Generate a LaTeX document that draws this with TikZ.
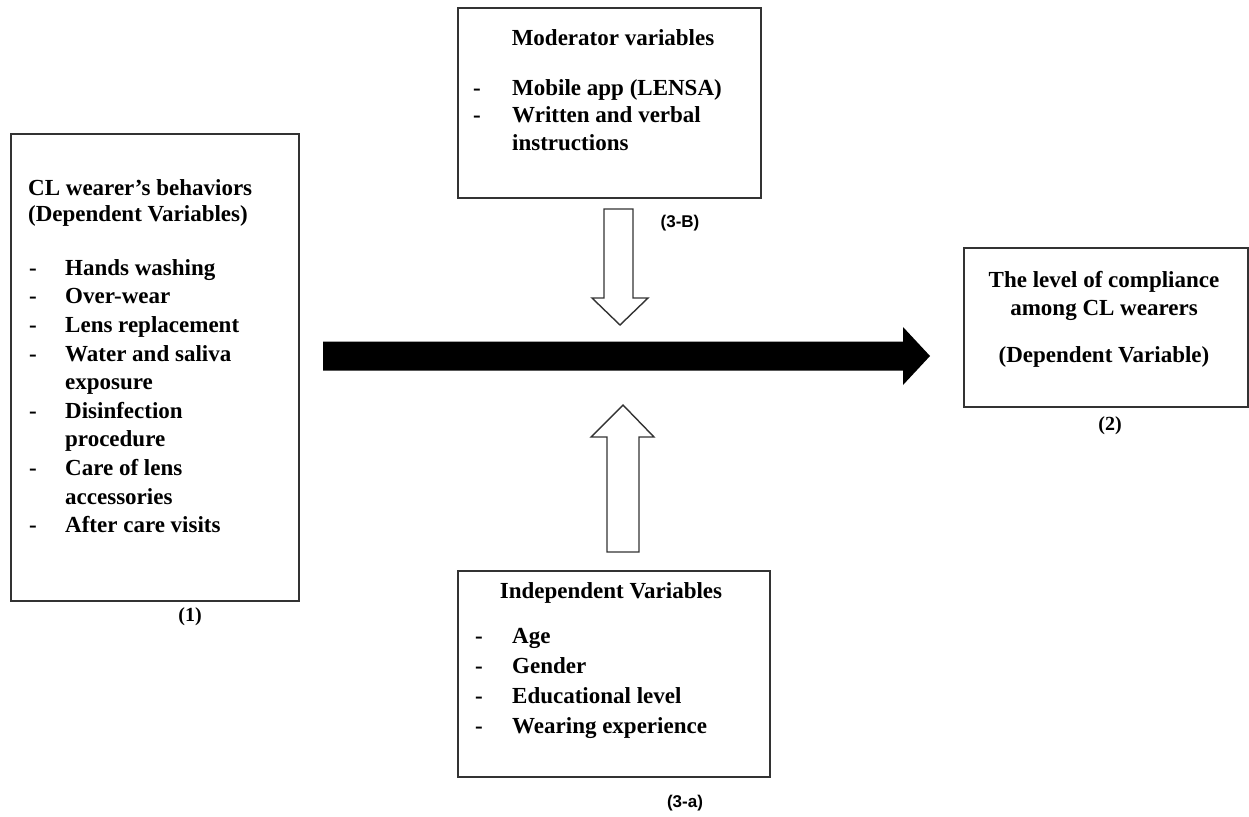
\documentclass[tikz,border=0pt]{standalone}
\usepackage{fontspec}
\setmainfont{Liberation Serif}
\newfontfamily\labsans{Liberation Sans}
\definecolor{edge}{HTML}{333333}
\begin{document}
\begin{tikzpicture}[x=1pt,y=-1pt,
  box/.style={draw=edge, line width=1.8pt, inner sep=0pt, anchor=north west},
  txt/.style={anchor=west, inner sep=0pt, yshift=-5pt, font=\bfseries\fontsize{23}{27}\selectfont, text height=0.7em, text depth=0.25em},
  ctxt/.style={txt, anchor=center},
  num/.style={inner sep=0pt, yshift=-4pt, font=\bfseries\fontsize{20}{24}\selectfont},
  snum/.style={inner sep=0pt, font=\labsans\bfseries\fontsize{17}{20}\selectfont},
  hollow/.style={draw=edge, line width=1.4pt, fill=white, line join=miter}
]
\useasboundingbox (0,0) rectangle (1249,816);

% boxes
\node[box, minimum width=288pt, minimum height=467pt] (lbox) at (10,133) {};
\node[box, minimum width=303pt, minimum height=190pt] (mbox) at (457,7) {};
\node[box, minimum width=312pt, minimum height=206pt] (ibox) at (457,570) {};
\node[box, minimum width=284pt, minimum height=159pt] (rbox) at (963,247) {};

% left box text
\node[txt] (l1) at (28,188) {CL wearer’s behaviors};
\node[txt] (l2) at (28,214) {(Dependent Variables)};
\foreach \t/\y/\d [count=\i] in {Hands washing/268/1, Over-wear/296.6/1, Lens replacement/325.2/1, Water and saliva/353.8/1, exposure/382.4/0, Disinfection/411/1, procedure/439.6/0, Care of lens/468.2/1, accessories/496.8/0, After care visits/525.4/1}{
  \node[txt] (li\i) at (65,\y) {\t};
  \ifnum\d=1 \node[txt] (ld\i) at (29,\y) {-}; \fi
}
\node[num] (n1) at (190,613) {(1)};

% moderator box text
\node[ctxt] (m1) at (613,38) {Moderator variables};
\node[txt] (m2) at (512,88) {Mobile app (LENSA)};
\node[txt] (md2) at (473,88) {-};
\node[txt] (m3) at (512,115) {Written and verbal};
\node[txt] (md3) at (473,115) {-};
\node[txt] (m4) at (512,143) {instructions};

% independent box text
\node[ctxt] (i1) at (611,591) {Independent Variables};
\foreach \t/\y [count=\i] in {Age/636, Gender/666, Educational level/696, Wearing experience/726}{
  \node[txt] (it\i) at (512,\y) {\t};
  \node[txt] (id\i) at (475,\y) {-};
}

% right box text
\node[ctxt] (r1) at (1104,280) {The level of compliance};
\node[ctxt] (r2) at (1104,308) {among CL wearers};
\node[ctxt] (r3) at (1104,355) {(Dependent Variable)};
\node[num] (n2) at (1110,422) {(2)};

% labels
\node[snum] (n3b) at (680,223) {(3-B)};
\node[snum] (n3a) at (685,803) {(3-a)};

% main black arrow
\coordinate (ms) at (323,356);
\coordinate (me) at (930,356);
\fill[black] ([yshift=14.5pt]ms) -- ([xshift=-27pt,yshift=14.5pt]me) -- ([xshift=-27pt,yshift=29pt]me) -- (me)
  -- ([xshift=-27pt,yshift=-29pt]me) -- ([xshift=-27pt,yshift=-14.5pt]me) -- ([yshift=-14.5pt]ms) -- cycle;

% down hollow arrow (moderator)
\coordinate (de) at (620,325);
\draw[hollow] (604,209) -- (633,209) -- (633,298) -- (648,298) -- (de) -- (592,298) -- (604,298) -- cycle;

% up hollow arrow (independent)
\coordinate (ue) at (623,405);
\draw[hollow] (607,552) -- (639,552) -- (639,437) -- (654,437) -- (ue) -- (591,437) -- (607,437) -- cycle;
\end{tikzpicture}
\end{document}
